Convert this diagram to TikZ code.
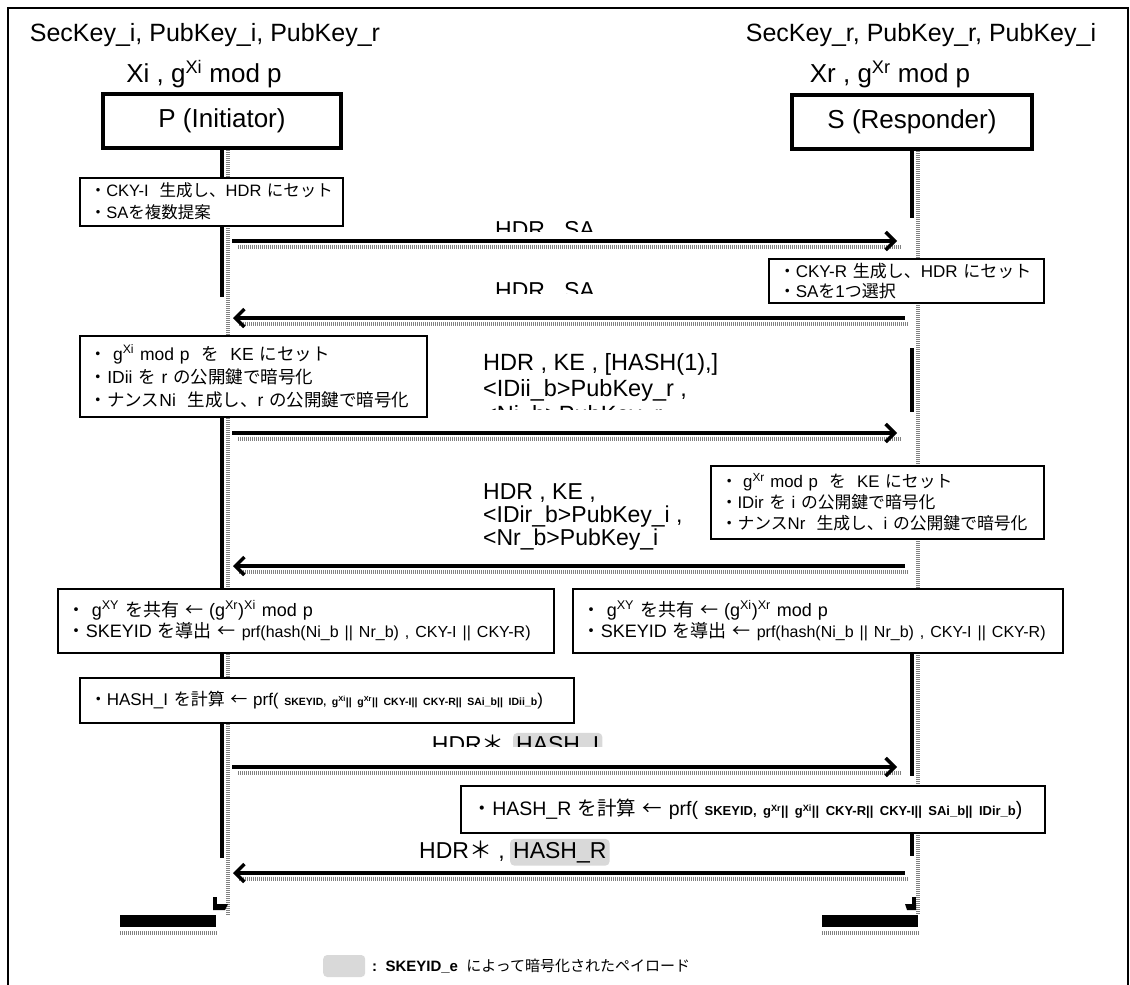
\documentclass[tikz,border=0pt]{standalone}
\usepackage{fontspec}
\setmainfont{Liberation Sans}
\newfontfamily\jpfont{Noto Sans CJK JP}
\usetikzlibrary{arrows.meta}
\newcommand{\J}[1]{{\jpfont #1}}
\newcommand{\up}[1]{\textsuperscript{#1}}

\begin{document}
\begin{tikzpicture}
        [
        x=1pt, y=-1pt,
        head/.style={font=\fontsize{25}{30}\selectfont, inner sep=0pt},
        actor/.style={draw, line width=4pt, minimum width=238pt, minimum height=54pt, font=\fontsize{26}{30}\selectfont},
        note/.style={draw, line width=1.5pt, fill=white, anchor=north west, align=left, inner xsep=10pt, inner ysep=0pt, font=\fontsize{17}{22}\selectfont},
        life/.style={line width=4pt},
        halftone/.style={draw=black!50, line width=4pt, dash pattern=on 1pt off 1pt},
        msg/.style={line width=3.5pt, -{Straight Barb[length=9pt, width=18pt]}},
        lbl/.style={font=\fontsize{23}{26}\selectfont, inner sep=0pt},
        enc/.style={fill=black!15, rounded corners=4pt, inner xsep=3pt, inner ysep=3pt},
        endbar/.style={fill=black, minimum width=96pt, minimum height=12pt, inner sep=0pt}
        ]
    \useasboundingbox (0,0) rectangle (1130,985);
    \draw[line width=1.2pt] (8,990) -- (8,8) -- (1128,8) -- (1128,990);

    % parties
    \node[head] (ki1) at (205,35) {SecKey\_i, PubKey\_i, PubKey\_r};
    \node[head, font=\fontsize{26}{30}\selectfont] (ki2) at (204,74) {Xi\ ,\ g\up{Xi}\ mod\ p};
    \node[head] (kr1) at (921,35) {SecKey\_r, PubKey\_r, PubKey\_i};
    \node[head, font=\fontsize{26}{30}\selectfont] (kr2) at (890,74) {Xr\ ,\ g\up{Xr}\ mod\ p};
    \node[actor] (P) at (222,121) {P (Initiator)};
    \node[actor, minimum width=240pt] (S) at (912,122) {S (Responder)};
    \node[endbar] (Pend) at (168,921) {};
    \node[endbar] (Send) at (870,921) {};
    \draw[halftone] ([yshift=-6pt]Pend.south west) -- ([yshift=-6pt]Pend.south east);
    \draw[halftone] ([yshift=-6pt]Send.south west) -- ([yshift=-6pt]Send.south east);

    % lifelines
    \draw[halftone] ([xshift=6pt]P.south) -- ([xshift=6pt]P.south |- Pend.north);
    \draw[halftone] ([xshift=6pt]S.south) -- ([xshift=6pt]S.south |- Send.north);
    \coordinate (a1) at (222,297);
    \coordinate (a2) at (222,858);
    \coordinate (b1) at (912,218);
    \coordinate (b2) at (912,348);
    \coordinate (b3) at (912,412);
    \coordinate (b4) at (912,776);
    \coordinate (b5) at (912,856);
    \draw[life] (P.south) -- (222,177);
    \draw[life] (222,225) -- (a1);
    \draw[life] (222,416) -- (222,588);
    \draw[life] (222,652) -- (222,677);
    \draw[life] (222,722) -- (a2);
    \draw[life] (S.south) -- (b1);
    \draw[life] (b2) -- (b3);
    \draw[life] (912,652) -- (b4);
    \draw[life] (912,832) -- (b5);
    \fill (213,897) rectangle (217,910);
    \fill (213,904) -- (228,904) -- (225,910) -- (213,910) -- cycle;
    \fill (912,897) rectangle (916,910);
    \fill (905,904) -- (916,904) -- (916,910) -- (907,910) -- cycle;

    % processing notes
    \node[note, text width=243pt, minimum height=48pt, font=\fontsize{16.5}{22}\selectfont] (n1) at (79,177)
        {\mbox{\J{・}CKY-I\ \ \J{生成し、}HDR \J{にセット}}\\ \mbox{\J{・}SA\J{を複数提案}}};
    \node[note, text width=255pt, minimum height=44pt, font=\fontsize{17}{20}\selectfont] (n2) at (768,258)
        {\mbox{\J{・}CKY-R \J{生成し、}HDR \J{にセット}}\\ \mbox{\J{・}SA\J{を}1\J{つ選択}}};
    \node[note, text width=327pt, minimum height=81pt, font=\fontsize{17.5}{23}\selectfont] (n3) at (79,335)
        {\mbox{\J{・} g\up{Xi} mod p\ \ \J{を}\ \ KE \J{にセット}}\\
         \mbox{\J{・}IDii \J{を} r \J{の公開鍵で暗号化}}\\
         \mbox{\J{・ナンス}Ni\ \ \J{生成し、}r \J{の公開鍵で暗号化}}};
    \node[note, text width=313pt, minimum height=73pt, font=\fontsize{16.8}{21}\selectfont] (n4) at (710,465)
        {\mbox{\J{・} g\up{Xr} mod p\ \ \J{を}\ \ KE \J{にセット}}\\
         \mbox{\J{・}IDir \J{を} i \J{の公開鍵で暗号化}}\\
         \mbox{\J{・ナンス}Nr\ \ \J{生成し、}i \J{の公開鍵で暗号化}}};
    \node[note, text width=476pt, minimum height=64pt, font=\fontsize{18}{21}\selectfont] (n5) at (57,588)
        {\mbox{\J{・} g\up{XY} \J{を共有 ←} (g\up{Xr})\up{Xi} mod p}\\
         \mbox{\J{・}SKEYID \J{を導出 ←} {\fontsize{16}{18}\selectfont prf(hash(Ni\_b || Nr\_b) , CKY-I || CKY-R)}}};
    \node[note, text width=470pt, minimum height=64pt, font=\fontsize{18}{21}\selectfont] (n6) at (572,588)
        {\mbox{\J{・} g\up{XY} \J{を共有 ←} (g\up{Xi})\up{Xr} mod p}\\
         \mbox{\J{・}SKEYID \J{を導出 ←} {\fontsize{16}{18}\selectfont prf(hash(Ni\_b || Nr\_b) , CKY-I || CKY-R)}}};
    \node[note, text width=474pt, minimum height=45pt, font=\fontsize{17}{22}\selectfont] (n7) at (79,677)
        {\mbox{\J{・}HASH\_I \J{を計算 ←} prf( {\fontsize{10.5}{13}\selectfont\bfseries SKEYID, g\up{Xi}|| g\up{Xr}|| CKY-I|| CKY-R|| SAi\_b|| IDii\_b})}};
    \node[note, text width=560pt, minimum height=47pt, inner xsep=12pt, font=\fontsize{19.5}{22}\selectfont] (n8) at (460,785)
        {\mbox{\J{・}HASH\_R \J{を計算 ←} prf( {\fontsize{13}{15}\selectfont\bfseries SKEYID, g\up{Xr}|| g\up{Xi}|| CKY-R|| CKY-I|| SAi\_b|| IDir\_b})}};

    % messages
    \coordinate (i1) at (232,241); \coordinate (r1) at (897,241);
    \coordinate (i2) at (233,318); \coordinate (r2) at (905,318);
    \coordinate (i3) at (232,433); \coordinate (r3) at (897,433);
    \coordinate (i4) at (233,566); \coordinate (r4) at (905,566);
    \coordinate (i5) at (232,767); \coordinate (r5) at (897,767);
    \coordinate (i6) at (233,873); \coordinate (r6) at (905,873);
    \foreach \n in {1,...,6}
        \draw[halftone] ([shift={(6,6)}]i\n) -- ([shift={(4,6)}]r\n);
    \foreach \n in {1,3,5}
        \draw[msg] (i\n) -- (r\n);
    \foreach \n in {2,4,6}
        \draw[msg] (r\n) -- (i\n);

    % message labels
    \begin{scope}
        \clip (400,200) rectangle (700,231);
        \node[lbl, anchor=base] (l1) at (545,237) {HDR , SA};
    \end{scope}
    \begin{scope}
        \clip (400,260) rectangle (700,293);
        \node[lbl, anchor=base] (l2) at (545,298) {HDR , SA};
    \end{scope}
    \begin{scope}
        \clip (470,340) rectangle (800,409);
        \node[lbl, font=\fontsize{23.5}{26}\selectfont, anchor=base west] (l3a) at (483,370) {HDR , KE , [HASH(1),]};
        \node[lbl, font=\fontsize{23.5}{26}\selectfont, anchor=base west] (l3b) at (483,396) {<IDii\_b>PubKey\_r ,};
        \node[lbl, font=\fontsize{23.5}{26}\selectfont, anchor=base west] (l3c) at (483,422) {<Ni\_b>PubKey\_r};
    \end{scope}
    \node[lbl, anchor=base west] (l4a) at (483,499) {HDR , KE ,};
    \node[lbl, anchor=base west] (l4b) at (483,522) {<IDir\_b>PubKey\_i ,};
    \node[lbl, anchor=base west] (l4c) at (483,545) {<Nr\_b>PubKey\_i};
    \begin{scope}
        \clip (400,715) rectangle (700,746);
        \node[lbl, enc, anchor=base west] (l5b) at (513,752) {HASH\_I};
        \node[lbl, anchor=base east] (l5a) at (505,752) {HDR\J{＊}};
    \end{scope}
    \node[lbl, enc, anchor=base west] (l6b) at (510,858) {HASH\_R};
    \node[lbl, anchor=base east] (l6a) at (505,858) {HDR\J{＊} ,};

    % key
    \node[enc, minimum width=42pt, minimum height=22pt, anchor=west] (key) at (323,966) {};
    \node[anchor=west, inner sep=0pt, font=\fontsize{15}{18}\selectfont] (keytext) at (372,966)
        {\textbf{:\ \ SKEYID\_e}\ \ \J{によって暗号化されたペイロード}};
\end{tikzpicture}
\end{document}
